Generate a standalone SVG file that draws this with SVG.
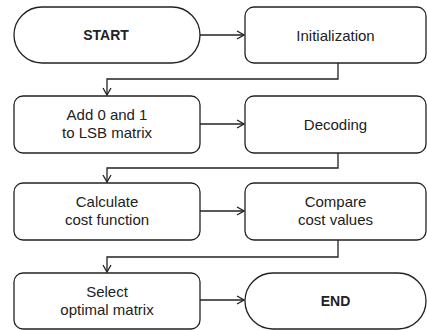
<svg xmlns="http://www.w3.org/2000/svg" width="427" height="330" viewBox="0 0 427 330">
<defs>
<style>
.box{fill:#fff;stroke:#222;stroke-width:1.3}
.t{font-family:"Liberation Sans",Arial,sans-serif;font-size:15px;fill:#222;text-anchor:middle}
.b{font-weight:bold;font-size:14px}
.c{fill:none;stroke:#222;stroke-width:1.3}
</style>
<marker id="ah" markerWidth="10" markerHeight="10" refX="9" refY="5" orient="auto" markerUnits="userSpaceOnUse">
<path d="M2,1 L9,5 L2,9" fill="none" stroke="#222" stroke-width="1.3"/>
</marker>
</defs>
<rect width="427" height="330" fill="#fff"/>
<g id="start"><rect class="box" x="14" y="7" width="186" height="56" rx="28"/><text class="t b" x="106" y="40">START</text></g>
<g id="init"><rect class="box" x="245" y="7" width="181" height="56" rx="9"/><text class="t" x="335.5" y="40.5">Initialization</text></g>
<g id="add"><rect class="box" x="14" y="96" width="186" height="57" rx="9"/><text class="t" x="107" y="120">Add 0 and 1</text><text class="t" x="107" y="138">to LSB matrix</text></g>
<g id="decoding"><rect class="box" x="245" y="96" width="181" height="57" rx="9"/><text class="t" x="335.5" y="129.5">Decoding</text></g>
<g id="calc"><rect class="box" x="14" y="183" width="186" height="57" rx="9"/><text class="t" x="107" y="207">Calculate</text><text class="t" x="107" y="225">cost function</text></g>
<g id="compare"><rect class="box" x="245" y="183" width="181" height="57" rx="9"/><text class="t" x="335.5" y="207">Compare</text><text class="t" x="335.5" y="225">cost values</text></g>
<g id="select"><rect class="box" x="14" y="273" width="186" height="56" rx="9"/><text class="t" x="107" y="297">Select</text><text class="t" x="107" y="315">optimal  matrix</text></g>
<g id="end"><rect class="box" x="245" y="273" width="181" height="56" rx="28"/><text class="t b" x="335.5" y="306">END</text></g>
<g id="connectors">
<path class="c" d="M200,35 H244" marker-end="url(#ah)"/>
<path class="c" d="M338,63 V79 H107 V95" marker-end="url(#ah)"/>
<path class="c" d="M200,124 H244" marker-end="url(#ah)"/>
<path class="c" d="M338,153 V168 H107 V182" marker-end="url(#ah)"/>
<path class="c" d="M200,211 H244" marker-end="url(#ah)"/>
<path class="c" d="M338,240 V257 H107 V272" marker-end="url(#ah)"/>
<path class="c" d="M200,300 H244" marker-end="url(#ah)"/>
</g>
</svg>
